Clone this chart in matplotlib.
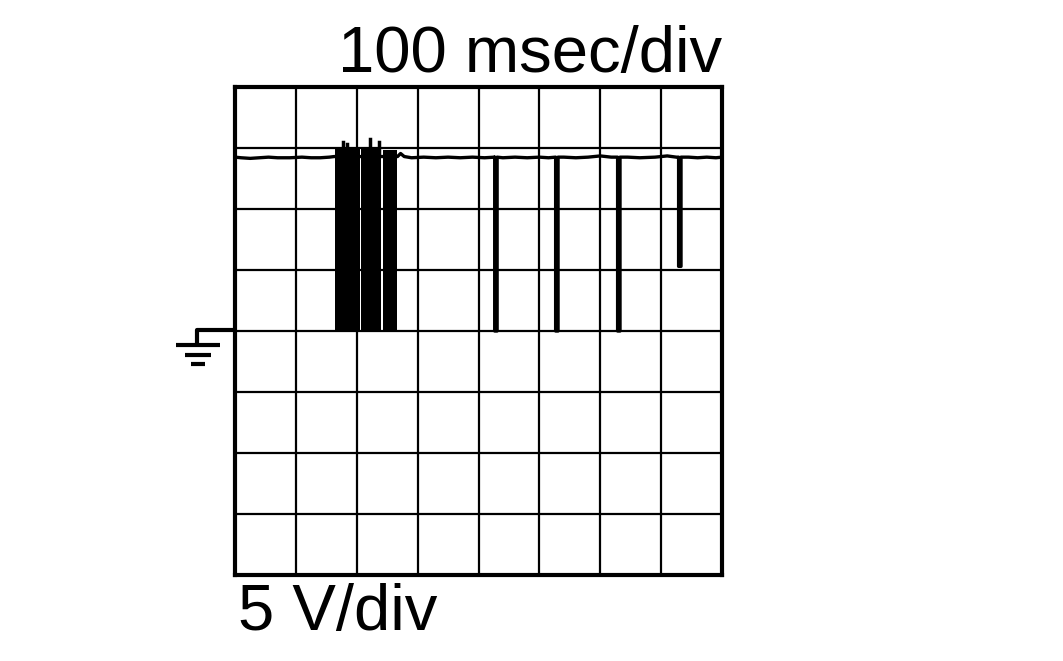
import matplotlib.pyplot as plt
from matplotlib.lines import Line2D

plt.rcParams['font.family'] = ['Liberation Sans', 'DejaVu Sans']

# trace data: time in ms, level in V (ground = 0 V)
trace_t = [0, 10, 25, 40, 55, 70, 90, 110, 125, 140, 155, 163,
           267, 272, 278, 290, 310, 330, 350, 370, 390, 410, 427]
trace_v = [14.25, 14.2, 14.15, 14.2, 14.25, 14.2, 14.2, 14.25, 14.2, 14.2, 14.25, 14.3,
           14.3, 14.55, 14.3, 14.2, 14.25, 14.2, 14.25, 14.2, 14.25, 14.2, 14.25]

# repeating negative pulses after the burst
pulse_t = [428.6, 528.7, 630.5, 730.7]
pulse_low = [0.0, 0.0, 0.0, 5.3]
after_t = [[440, 460, 480, 500, 515], [540, 560, 580, 600, 618], [645, 665, 690, 710, 725],
           [745, 760, 775, 790, 800]]
after_v = [[14.2, 14.25, 14.2, 14.25, 14.2], [14.25, 14.2, 14.25, 14.35, 14.25],
           [14.25, 14.2, 14.25, 14.35, 14.25], [14.25, 14.2, 14.25, 14.2, 14.25]]

# dense burst segments (start, end, top, bottom)
burst_start = [164.3, 207.0, 243.1]
burst_end = [205.3, 239.8, 266.1]
burst_top = [14.9, 15.0, 14.8]
burst_bottom = [0.1, 0.1, 0.1]
spike_t = [178.0, 184.0, 221.0, 237.0]
spike_v = [15.5, 15.3, 15.7, 15.5]

fig = plt.figure(figsize=(10.63, 6.61), dpi=100)
ax = fig.add_axes([235 / 1063, 1 - 575 / 661, 487 / 1063, 488 / 661])
ax.set_xlim(0, 800)
ax.set_ylim(-20, 20)
ax.set_xticks(range(0, 801, 100))
ax.set_yticks(range(-20, 21, 5))
ax.tick_params(length=0, labelbottom=False, labelleft=False)
ax.grid(True, color='black', linewidth=1.6)
for s in ax.spines.values():
    s.set_linewidth(3)

# baseline trace with pulses
t = list(trace_t)
v = list(trace_v)
for i, p in enumerate(pulse_t):
    t += [p - 2, p - 2, p + 2, p + 2]
    v += [14.25, pulse_low[i], pulse_low[i], 14.25]
    t += after_t[i]
    v += after_v[i]
ax.plot(t, v, color='black', linewidth=2.4)

for i in range(len(burst_start)):
    ax.fill_between([burst_start[i], burst_end[i]], burst_bottom[i], burst_top[i],
                    color='black', linewidth=0)
for i in range(len(spike_t)):
    ax.plot([spike_t[i], spike_t[i]], [14.5, spike_v[i]], color='black', linewidth=2.5)

# ground marker
def fig_line(xs, ys, lw=3):
    fig.add_artist(Line2D([x / 1063 for x in xs], [1 - y / 661 for y in ys],
                          transform=fig.transFigure, color='black', linewidth=lw,
                          solid_capstyle='butt'))

fig_line([235, 197, 197], [330, 330, 345])
fig_line([176, 220], [345, 345])
fig_line([185, 211], [355, 355])
fig_line([191, 205], [364, 364])

fig.text(722 / 1063, 1 - 72 / 661, '100 msec/div', ha='right', va='baseline', fontsize=47)
fig.text(238 / 1063, 1 - 630 / 661, '5 V/div', ha='left', va='baseline', fontsize=47)

plt.savefig('out.png', dpi=100)
plt.close()
